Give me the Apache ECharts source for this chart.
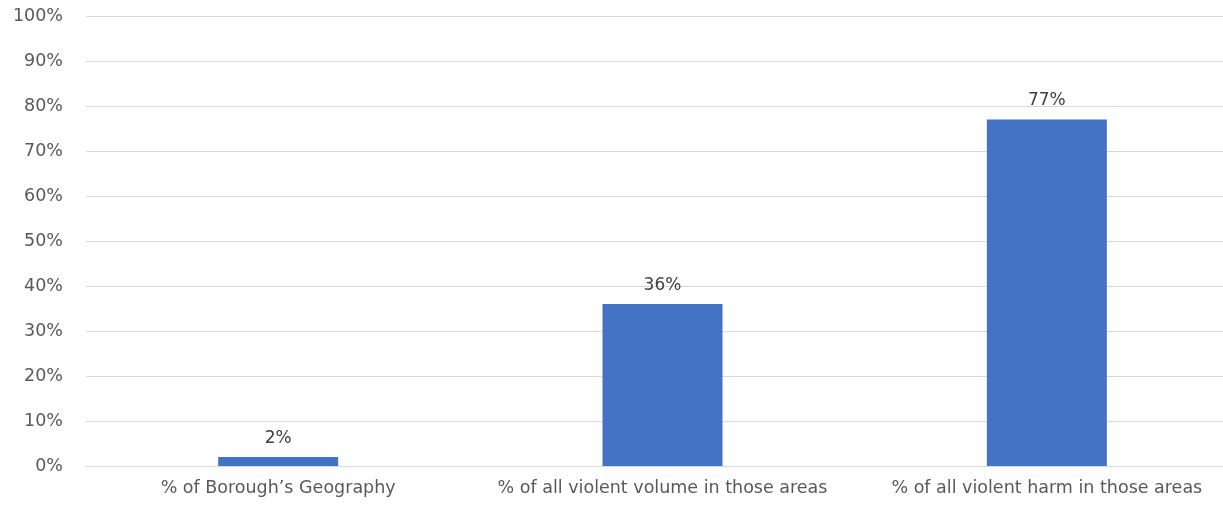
<!DOCTYPE html>
<html>
<head>
<meta charset="utf-8">
<script src="https://cdn.jsdelivr.net/npm/echarts@6/dist/echarts.min.js"></script>
<style>html,body{margin:0;padding:0;background:#fff;overflow:hidden;width:1223px;height:506px;}#c{width:1239px;height:506px;}</style>
</head>
<body>
<div id="c"></div>
<script>
const categories = ["% of Borough\u2019s Geography", "% of all violent volume in those areas", "% of all violent harm in those areas"];
const values = [2, 36, 77];
const yTicks = {min: 0, max: 100, interval: 10};

const chart = echarts.init(document.getElementById('c'), null, {renderer: 'canvas'});
chart.setOption({
  animation: false,
  grid: {left: 86, right: 0, top: 16, bottom: 40, containLabel: false},
  xAxis: {
    type: 'category',
    data: categories,
    axisTick: {show: false},
    axisLine: {lineStyle: {color: '#d9d9d9', width: 1}},
    axisLabel: {color: '#595959', fontFamily: 'DejaVu Sans', fontSize: 17.5, margin: 13, interval: 0}
  },
  yAxis: {
    type: 'value',
    min: yTicks.min, max: yTicks.max, interval: yTicks.interval,
    axisLine: {show: false},
    axisTick: {show: false},
    splitLine: {lineStyle: {color: '#d9d9d9', width: 1}},
    axisLabel: {color: '#595959', fontFamily: 'DejaVu Sans', fontSize: 17.5, margin: 23, formatter: '{value}%'}
  },
  series: [{
    type: 'bar',
    data: values,
    barWidth: 120,
    itemStyle: {color: '#4472c4'},
    label: {show: true, position: 'top', distance: 10, color: '#404040', fontFamily: 'DejaVu Sans', fontSize: 17, formatter: '{c}%'}
  }]
});
</script>
</body>
</html>
